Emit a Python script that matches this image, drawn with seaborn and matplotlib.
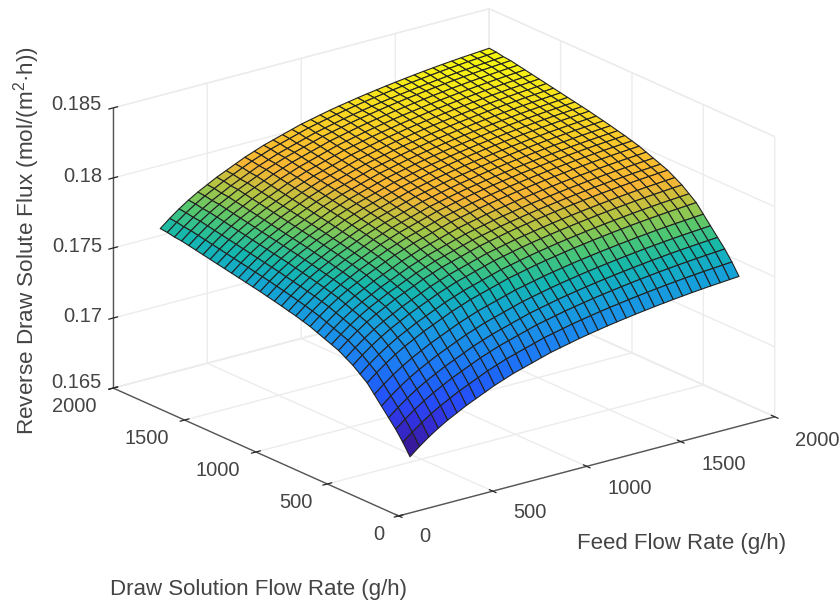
import numpy as np
import matplotlib
matplotlib.use('Agg')
import matplotlib.pyplot as plt
import seaborn as sns

# grid of the surface, one value every 50 g/h
feed_rate = np.arange(250, 2001, 50)
draw_rate = np.arange(250, 2001, 50)

# read off the two front edges of the surface, the picture is close to additive
# so the inner cells are built from these two edges
z_along_feed = [0.16720, 0.16775, 0.16825, 0.16870, 0.16910, 0.16945, 0.16980, 0.17010, 0.17040,
                0.17070, 0.17095, 0.17120, 0.17140, 0.17160, 0.17180, 0.17200, 0.17215, 0.17230,
                0.17245, 0.17258, 0.17270, 0.17282, 0.17293, 0.17303, 0.17313, 0.17322, 0.17331,
                0.17339, 0.17347, 0.17354, 0.17361, 0.17367, 0.17373, 0.17378, 0.17383, 0.17388]
z_along_draw = [0.16720, 0.16800, 0.16870, 0.16930, 0.16990, 0.17050, 0.17110, 0.17150, 0.17190,
                0.17220, 0.17250, 0.17270, 0.17290, 0.17310, 0.17330, 0.17345, 0.17360, 0.17372,
                0.17385, 0.17397, 0.17408, 0.17420, 0.17430, 0.17440, 0.17450, 0.17460, 0.17470,
                0.17480, 0.17490, 0.17500, 0.17510, 0.17520, 0.17530, 0.17535, 0.17545, 0.17550]

xy_ticks = [0, 500, 1000, 1500, 2000]
xy_tick_labels = ['0', '500', '1000', '1500', '2000']
z_ticks = [0.165, 0.17, 0.175, 0.18, 0.185]
z_tick_labels = ['0.165', '0.17', '0.175', '0.18', '0.185']

# parula, pushed a bit more saturated like the scan
surface_colors = [(0.22, 0.10, 0.62), (0.20, 0.18, 0.85), (0.15, 0.30, 0.98), (0.12, 0.40, 0.98),
                  (0.11, 0.50, 0.95), (0.10, 0.58, 0.90), (0.08, 0.65, 0.83), (0.08, 0.72, 0.68),
                  (0.30, 0.78, 0.45), (0.66, 0.78, 0.27), (0.97, 0.71, 0.20), (0.98, 0.76, 0.17),
                  (0.97, 0.87, 0.12), (0.96, 0.97, 0.06)]

# pixel places of the tick labels in the 840x604 picture
feed_label_px = [(425, 537), (530, 513), (630, 489), (724, 464), (817, 440)]
draw_label_px = [(379, 534), (296, 503), (218, 471), (147, 439), (74, 407)]
z_label_px = [(102, 382), (102, 316), (102, 247), (102, 177), (102, 105)]

sns.set_theme(style='white')
plt.rcParams['font.family'] = ['Liberation Sans', 'DejaVu Sans']
plt.rcParams['mathtext.default'] = 'regular'
text_color = '#444444'
axis_color = '#555555'

cmap = sns.blend_palette(surface_colors, as_cmap=True)

X, Y = np.meshgrid(feed_rate, draw_rate)
Z = np.add.outer(np.array(z_along_draw), np.array(z_along_feed)) - z_along_feed[0]

fig = plt.figure(figsize=(8.4, 6.04), dpi=100)
ax = fig.add_axes([15.8 / 840, 31.5 / 604, 1, 1], projection='3d', proj_type='ortho')
ax.view_init(elev=20.1, azim=-127.5)
ax.set_box_aspect((475, 470, 299), zoom=1.174)

surf = ax.plot_surface(X, Y, Z, cmap=cmap, rstride=1, cstride=1, edgecolor='#222222', linewidth=0.8,
                       antialiased=True, shade=False)
surf.set_clip_on(False)

ax.set_xlim(0, 2000)
ax.set_ylim(0, 2000)
ax.set_zlim(0.165, 0.185)
ax.set_xticks(xy_ticks, labels=[''] * len(xy_ticks))
ax.set_yticks(xy_ticks, labels=[''] * len(xy_ticks))
ax.set_zticks(z_ticks, labels=[''] * len(z_ticks))

for axis in [ax.xaxis, ax.yaxis, ax.zaxis]:
    axis.set_pane_color((1, 1, 1, 1))
    axis.pane.set_edgecolor('#eeeeee')
    axis.line.set_color(axis_color)
    axis.line.set_linewidth(1.0)
    axis._axinfo['grid'].update(color='#ececec', linewidth=1.0)
    axis._axinfo['tick'].update(color=axis_color, linewidth={True: 0.9, False: 0.5}, inward_factor=0.15, outward_factor=0.15)

for label, (px, py) in zip(xy_tick_labels, feed_label_px):
    fig.text(px / 840, 1 - py / 604, label, ha='center', va='center', fontsize=14.5, color=text_color)
for label, (px, py) in zip(xy_tick_labels, draw_label_px):
    fig.text(px / 840, 1 - py / 604, label, ha='center', va='center', fontsize=14.5, color=text_color)
for label, (px, py) in zip(z_tick_labels, z_label_px):
    fig.text(px / 840, 1 - py / 604, label, ha='right', va='center', fontsize=14.5, color=text_color)

fig.text(682 / 840, 1 - 543 / 604, 'Feed Flow Rate (g/h)', ha='center', va='center', fontsize=16, color=text_color)
fig.text(259 / 840, 1 - 590 / 604, 'Draw Solution Flow Rate (g/h)', ha='center', va='center', fontsize=16, color=text_color)
fig.text(27 / 840, 1 - 240 / 604, 'Reverse Draw Solute Flux (mol/(m$^2$·h))', rotation=90, ha='center', va='center',
         fontsize=16.2, color=text_color)

fig.savefig('out.png', dpi=100)
